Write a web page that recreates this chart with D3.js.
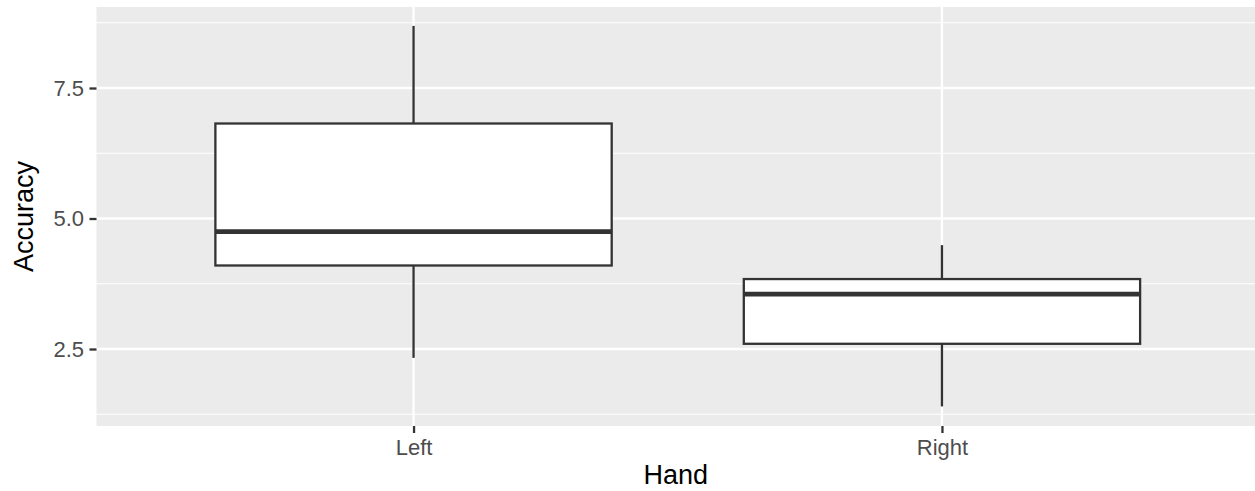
<html>
<head>
<style>
  body { margin: 0; background: #fff; }
  text { font-family: "Liberation Sans", Arial, sans-serif; }
</style>
</head>
<body>
<script src="https://d3js.org/d3.v7.min.js"></script>
<script>
// box stats
var hands = ["Left", "Right"];
var lowerWhisker = [2.33, 1.40];
var q1 = [4.10, 2.60];
var medians = [4.75, 3.55];
var q3 = [6.82, 3.84];
var upperWhisker = [8.69, 4.49];
var majorTicks = [2.5, 5.0, 7.5];
var minorTicks = [1.25, 3.75, 6.25, 8.75];

var W = 1255, H = 491;
var panel = { left: 96.5, right: 1259, top: 7, bottom: 426 };

var svg = d3.select("body").append("svg")
    .attr("width", W)
    .attr("height", H);

var x = d3.scalePoint()
    .domain(hands)
    .range([panel.left, panel.right])
    .padding(0.6);

var y = d3.scaleLinear()
    .domain([1.025, 9.052])
    .range([panel.bottom, panel.top]);

// panel background
svg.append("rect")
    .attr("x", panel.left)
    .attr("y", panel.top)
    .attr("width", panel.right - panel.left)
    .attr("height", panel.bottom - panel.top)
    .style("fill", "#EBEBEB");

// grid
svg.append("g").selectAll("line").data(minorTicks).enter().append("line")
    .attr("x1", panel.left).attr("x2", panel.right)
    .attr("y1", function(d) { return y(d); })
    .attr("y2", function(d) { return y(d); })
    .style("stroke", "#fff").style("stroke-width", 1.2);

svg.append("g").selectAll("line").data(majorTicks).enter().append("line")
    .attr("x1", panel.left).attr("x2", panel.right)
    .attr("y1", function(d) { return y(d); })
    .attr("y2", function(d) { return y(d); })
    .style("stroke", "#fff").style("stroke-width", 2.3);

svg.append("g").selectAll("line").data(hands).enter().append("line")
    .attr("x1", function(d) { return x(d); })
    .attr("x2", function(d) { return x(d); })
    .attr("y1", panel.top).attr("y2", panel.bottom)
    .style("stroke", "#fff").style("stroke-width", 2.3);

// boxes
var boxW = x.step() * 0.75;
var boxes = svg.append("g").selectAll("g").data(hands).enter().append("g");

boxes.append("line")
    .attr("x1", function(d) { return x(d); })
    .attr("x2", function(d) { return x(d); })
    .attr("y1", function(d, i) { return y(upperWhisker[i]); })
    .attr("y2", function(d, i) { return y(q3[i]); })
    .style("stroke", "#333").style("stroke-width", 2.3);

boxes.append("line")
    .attr("x1", function(d) { return x(d); })
    .attr("x2", function(d) { return x(d); })
    .attr("y1", function(d, i) { return y(q1[i]); })
    .attr("y2", function(d, i) { return y(lowerWhisker[i]); })
    .style("stroke", "#333").style("stroke-width", 2.3);

boxes.append("rect")
    .attr("x", function(d) { return x(d) - boxW / 2; })
    .attr("width", boxW)
    .attr("y", function(d, i) { return y(q3[i]); })
    .attr("height", function(d, i) { return y(q1[i]) - y(q3[i]); })
    .style("fill", "#fff")
    .style("stroke", "#333").style("stroke-width", 2.3);

boxes.append("line")
    .attr("x1", function(d) { return x(d) - boxW / 2; })
    .attr("x2", function(d) { return x(d) + boxW / 2; })
    .attr("y1", function(d, i) { return y(medians[i]); })
    .attr("y2", function(d, i) { return y(medians[i]); })
    .style("stroke", "#333").style("stroke-width", 4.8);

// axes
var yAxis = svg.append("g")
    .attr("transform", "translate(" + panel.left + ",0)")
    .call(d3.axisLeft(y).tickValues(majorTicks).tickFormat(d3.format(".1f"))
        .tickSize(7).tickPadding(5.5));

var xAxis = svg.append("g")
    .attr("transform", "translate(0," + panel.bottom + ")")
    .call(d3.axisBottom(x).tickSize(7).tickPadding(6.5));

[yAxis, xAxis].forEach(function(a) {
    a.select(".domain").remove();
    a.selectAll(".tick line").style("stroke", "#333").style("stroke-width", 2.3);
    a.selectAll(".tick text")
        .style("fill", "#4D4D4D")
        .style("font-size", "22px")
        .style("font-family", "Liberation Sans, Arial, sans-serif");
});

// titles
svg.append("text")
    .attr("x", (panel.left + panel.right) / 2 - 2)
    .attr("y", 484)
    .attr("text-anchor", "middle")
    .style("font-size", "27px")
    .style("fill", "#000")
    .text("Hand");

svg.append("text")
    .attr("transform", "translate(33," + (panel.top + panel.bottom) / 2 + ") rotate(-90)")
    .attr("text-anchor", "middle")
    .style("font-size", "27px")
    .style("fill", "#000")
    .text("Accuracy");
</script>
</body>
</html>
